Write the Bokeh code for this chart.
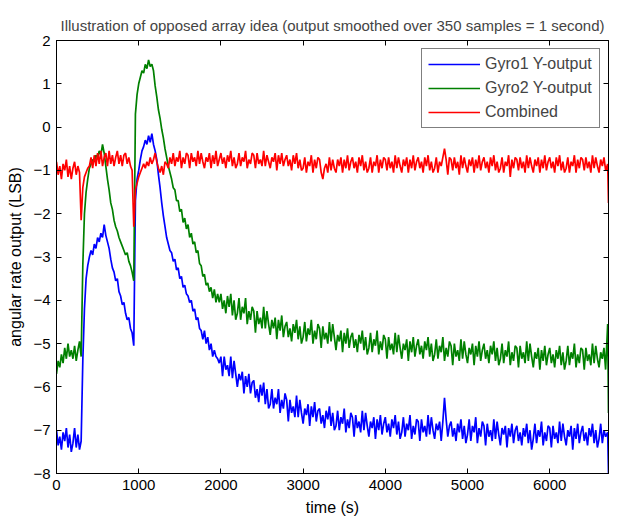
from bokeh.plotting import figure
from bokeh.models import (Range1d, FixedTicker, LinearAxis, Legend, LegendItem,
                          ColumnDataSource)
from bokeh.embed import file_html
from bokeh.resources import INLINE

# ---------------- data ----------------
time_s = list(range(0, 6700, 20)) + [6705, 6715]

gyro1 = [
    -7.00, -7.35, -7.15, -7.45, -7.05, -7.25, -6.95, -7.40, -7.10, -7.50,
    -7.30, -6.95, -7.40, -7.10, -7.45, -7.25, -5.40, -4.20, -3.50, -3.20,
    -3.00, -2.85, -2.95, -2.70, -2.80, -2.55, -2.65, -2.45, -2.55, -2.25,
    -2.50, -2.65, -2.80, -3.05, -3.25, -3.35, -3.55, -3.50, -3.80, -3.90,
    -4.10, -4.05, -4.30, -4.45, -4.40, -4.65, -4.75, -5.05, -1.70, -1.20,
    -1.00, -0.75, -0.55, -0.45, -0.30, -0.40, -0.20, -0.35, -0.15, -0.40,
    -0.55, -0.75, -1.10, -1.40, -1.75, -2.05, -2.30, -2.55, -2.70, -2.85,
    -2.90, -3.10, -3.05, -3.30, -3.25, -3.50, -3.45, -3.70, -3.65, -3.85,
    -3.90, -4.05, -4.00, -4.25, -4.20, -4.45, -4.40, -4.65, -4.70, -4.90,
    -4.70, -5.00, -4.85, -5.15, -5.00, -5.30, -5.15, -5.30, -5.35, -5.45,
    -5.30, -5.75, -5.30, -5.60, -5.50, -5.75, -5.30, -5.80, -5.40, -5.70,
    -6.00, -5.70, -5.85, -5.65, -6.15, -5.75, -6.00, -5.70, -6.15, -5.90,
    -5.85, -6.25, -6.05, -6.35, -5.95, -6.20, -5.90, -6.40, -6.05, -6.50,
    -6.40, -6.05, -6.50, -6.25, -6.40, -6.05, -6.60, -6.30, -6.50, -6.15,
    -6.30, -6.80, -6.30, -6.60, -6.45, -6.70, -6.20, -6.70, -6.30, -6.60,
    -6.85, -6.50, -6.65, -6.40, -6.90, -6.45, -6.70, -6.35, -6.80, -6.55,
    -6.50, -6.85, -6.65, -6.95, -6.55, -6.75, -6.45, -6.90, -6.60, -7.00,
    -6.90, -6.55, -7.00, -6.70, -6.85, -6.50, -7.05, -6.75, -6.95, -6.60,
    -6.70, -7.15, -6.65, -6.95, -6.80, -7.05, -6.55, -7.00, -6.60, -6.90,
    -7.15, -6.80, -6.95, -6.70, -7.20, -6.75, -7.00, -6.65, -7.10, -6.85,
    -6.70, -7.05, -6.85, -7.15, -6.75, -6.95, -6.65, -7.10, -6.80, -7.20,
    -7.05, -6.70, -7.15, -6.85, -7.00, -6.65, -7.20, -6.90, -7.10, -6.75,
    -6.80, -7.25, -6.75, -7.05, -6.90, -7.15, -6.65, -7.10, -6.70, -7.00,
    -7.20, -6.85, -7.00, -6.80, -7.25, -6.80, -6.25, -6.75, -7.15, -6.90,
    -6.80, -7.15, -6.95, -7.25, -6.85, -7.05, -6.75, -7.20, -6.90, -7.30,
    -7.10, -6.75, -7.25, -6.90, -7.05, -6.70, -7.30, -6.95, -7.15, -6.80,
    -6.90, -7.35, -6.85, -7.15, -7.00, -7.25, -6.75, -7.20, -6.80, -7.10,
    -7.35, -6.95, -7.10, -6.90, -7.40, -6.95, -7.15, -6.85, -7.30, -7.00,
    -6.90, -7.25, -7.05, -7.35, -6.95, -7.15, -6.85, -7.30, -7.00, -7.45,
    -7.20, -6.85, -7.30, -7.00, -7.15, -6.80, -7.35, -7.05, -7.25, -6.90,
    -6.95, -7.40, -6.90, -7.20, -7.05, -7.30, -6.80, -7.25, -6.85, -7.15,
    -7.35, -7.00, -7.15, -6.90, -7.45, -6.95, -7.20, -6.85, -7.30, -7.05,
    -6.90, -7.25, -7.05, -7.35, -6.95, -7.15, -6.85, -7.30, -7.00, -7.40,
    -7.20, -6.85, -7.30, -7.00, -7.15,
    -7.05, -8.00,
]

gyro2 = [
    -5.70, -5.40, -5.55, -5.25, -5.45, -5.10, -5.35, -5.00, -5.30, -5.15,
    -5.35, -5.05, -5.40, -5.15, -4.95, -5.30, -3.20, -2.00, -1.50, -1.20,
    -0.95, -0.85, -0.75, -0.80, -0.65, -0.70, -0.55, -0.65, -0.40, -0.60,
    -0.90, -1.20, -1.45, -1.75, -1.90, -2.15, -2.30, -2.40, -2.55, -2.65,
    -2.75, -2.85, -2.95, -2.90, -3.10, -3.20, -3.35, -3.55, 0.30, 0.75,
    1.00, 1.15, 1.30, 1.25, 1.45, 1.35, 1.55, 1.40, 1.45, 1.30,
    0.95, 0.70, 0.40, 0.20, -0.05, -0.25, -0.50, -0.70, -0.90, -1.05,
    -1.20, -1.40, -1.45, -1.70, -1.70, -1.95, -1.90, -2.20, -2.10, -2.35,
    -2.25, -2.55, -2.45, -2.70, -2.65, -2.90, -2.85, -3.15, -3.20, -3.45,
    -3.40, -3.65, -3.60, -3.80, -3.70, -3.95, -3.75, -4.05, -3.85, -4.05,
    -3.85, -4.20, -4.00, -4.30, -3.90, -4.15, -3.85, -4.35, -4.00, -4.45,
    -4.30, -3.95, -4.45, -4.15, -4.30, -3.95, -4.55, -4.25, -4.45, -4.15,
    -4.25, -4.75, -4.25, -4.55, -4.40, -4.65, -4.15, -4.65, -4.25, -4.55,
    -4.80, -4.45, -4.65, -4.40, -4.90, -4.45, -4.70, -4.35, -4.85, -4.60,
    -4.50, -4.85, -4.65, -4.95, -4.55, -4.75, -4.45, -4.90, -4.60, -5.00,
    -4.85, -4.50, -4.95, -4.65, -4.80, -4.45, -5.00, -4.70, -4.90, -4.55,
    -4.65, -5.10, -4.60, -4.90, -4.75, -5.00, -4.50, -4.95, -4.55, -4.85,
    -5.15, -4.80, -4.95, -4.70, -5.20, -4.75, -5.00, -4.65, -5.10, -4.85,
    -4.75, -5.10, -4.90, -5.20, -4.80, -5.00, -4.70, -5.15, -4.85, -5.25,
    -5.10, -4.75, -5.20, -4.90, -5.05, -4.70, -5.25, -4.95, -5.15, -4.80,
    -4.90, -5.35, -4.85, -5.15, -5.00, -5.25, -4.75, -5.20, -4.80, -5.10,
    -5.35, -5.00, -5.15, -4.90, -5.40, -4.95, -5.20, -4.85, -5.30, -5.05,
    -4.90, -5.25, -5.05, -5.35, -4.95, -5.15, -4.85, -5.30, -5.00, -5.40,
    -5.25, -4.90, -5.35, -5.05, -5.20, -4.85, -5.40, -5.10, -5.30, -4.95,
    -5.05, -5.50, -5.00, -5.30, -5.15, -5.40, -4.90, -5.35, -4.95, -5.25,
    -5.45, -5.10, -5.25, -5.00, -5.50, -5.05, -5.30, -4.95, -5.40, -5.15,
    -5.00, -5.35, -5.15, -5.45, -5.05, -5.25, -4.95, -5.40, -5.10, -5.50,
    -5.35, -5.00, -5.45, -5.15, -5.30, -4.95, -5.50, -5.20, -5.40, -5.05,
    -5.10, -5.55, -5.05, -5.35, -5.20, -5.45, -4.95, -5.40, -5.00, -5.30,
    -5.55, -5.20, -5.35, -5.10, -5.60, -5.15, -5.40, -5.05, -5.50, -5.25,
    -5.10, -5.45, -5.25, -5.55, -5.15, -5.35, -5.05, -5.50, -5.20, -5.60,
    -5.40, -5.05, -5.50, -5.20, -5.35, -5.00, -5.55, -5.25, -5.45, -5.10,
    -5.15, -5.60, -5.10, -5.40, -5.25, -5.50, -5.00, -5.45, -5.05, -5.35,
    -5.55, -5.20, -5.35, -5.10, -5.60,
    -4.55, -6.60,
]

combined = [
    -0.80, -1.10, -0.90, -1.20, -0.85, -1.00, -0.75, -1.15, -0.90, -1.20,
    -0.95, -0.80, -1.10, -0.90, -1.05, -2.15, -1.40, -1.15, -1.05, -0.95,
    -0.90, -0.70, -0.95, -0.65, -0.90, -0.60, -0.85, -0.55, -0.90, -0.70,
    -0.60, -0.90, -0.55, -0.85, -0.65, -0.90, -0.70, -0.55, -0.85, -0.65,
    -0.90, -0.65, -0.60, -0.85, -0.70, -0.90, -1.00, -2.30, -1.45, -1.30,
    -1.15, -1.05, -0.95, -0.85, -0.95, -0.80, -0.90, -0.70, -0.85, -0.75,
    -0.60, -0.80, -0.95, -1.05, -0.90, -1.10, -0.80, -0.85, -0.95, -0.70,
    -0.85, -0.60, -0.90, -0.70, -0.80, -0.55, -0.95, -0.70, -0.85, -0.60,
    -0.65, -0.95, -0.60, -0.80, -0.70, -0.90, -0.55, -0.85, -0.60, -0.80,
    -0.95, -0.70, -0.80, -0.60, -0.95, -0.65, -0.85, -0.55, -0.90, -0.75,
    -0.60, -0.85, -0.70, -0.95, -0.65, -0.80, -0.55, -0.90, -0.70, -0.95,
    -0.85, -0.60, -0.90, -0.70, -0.80, -0.55, -0.95, -0.75, -0.85, -0.60,
    -0.65, -0.95, -0.60, -0.85, -0.75, -0.90, -0.55, -0.90, -0.65, -0.80,
    -0.95, -0.70, -0.80, -0.60, -1.00, -0.65, -0.85, -0.60, -0.90, -0.75,
    -0.65, -0.90, -0.75, -1.00, -0.65, -0.85, -0.60, -0.95, -0.75, -1.00,
    -0.95, -0.70, -1.05, -0.80, -0.90, -0.65, -1.05, -0.75, -0.95, -0.70,
    -0.75, -1.05, -1.20, -0.95, -0.85, -1.05, -0.70, -1.00, -0.75, -0.95,
    -1.05, -0.75, -0.90, -0.70, -1.05, -0.75, -0.95, -0.65, -1.00, -0.80,
    -0.70, -0.95, -0.80, -1.05, -0.70, -0.90, -0.65, -1.00, -0.80, -1.05,
    -0.95, -0.70, -1.05, -0.80, -0.90, -0.65, -1.05, -0.75, -0.95, -0.70,
    -0.75, -1.00, -0.70, -0.95, -0.80, -1.05, -0.65, -0.95, -0.70, -0.90,
    -1.05, -0.75, -0.90, -0.70, -1.05, -0.75, -0.95, -0.65, -1.00, -0.80,
    -0.70, -0.95, -0.80, -1.05, -0.70, -0.90, -0.65, -1.00, -0.80, -1.05,
    -0.95, -0.70, -1.05, -0.80, -0.90, -0.70, -0.50, -0.75, -1.10, -0.70,
    -0.75, -1.00, -0.70, -0.95, -0.80, -1.10, -0.65, -0.95, -0.70, -0.90,
    -1.05, -0.75, -0.90, -0.70, -1.05, -0.75, -0.95, -0.65, -1.00, -0.80,
    -0.70, -0.95, -0.80, -1.05, -0.70, -0.90, -0.65, -1.00, -0.80, -1.05,
    -0.95, -0.70, -1.05, -0.80, -0.90, -0.65, -1.15, -0.75, -0.95, -0.70,
    -0.75, -1.00, -0.70, -0.95, -0.80, -1.05, -0.65, -0.95, -0.70, -0.90,
    -1.05, -0.75, -0.90, -0.70, -1.05, -0.75, -0.95, -0.65, -1.00, -0.80,
    -0.70, -0.95, -0.80, -1.05, -0.70, -0.90, -0.65, -1.00, -0.80, -1.05,
    -0.95, -0.70, -1.05, -0.80, -0.90, -0.65, -1.05, -0.75, -0.95, -0.70,
    -0.75, -1.00, -0.70, -0.95, -0.80, -1.05, -0.65, -0.95, -0.70, -0.90,
    -1.05, -0.75, -0.90, -0.70, -1.00,
    -0.85, -1.75,
]

series_names = ["Gyro1 Y-output", "Gyro2 Y-output", "Combined"]
series_colors = ["#0000FF", "#008000", "#FF0000"]

x_ticks = [0, 1000, 2000, 3000, 4000, 5000, 6000]
y_ticks = [-8, -7, -6, -5, -4, -3, -2, -1, 0, 1, 2]

title_text = "Illustration of opposed array idea (output smoothed over 350 samples = 1 second)"
x_label = "time (s)"
y_label = "angular rate output (LSB)"

# ---------------- figure ----------------
FONT = "Liberation Sans"

p = figure(frame_width=552, frame_height=433,
           x_range=Range1d(0, 6715), y_range=Range1d(-8, 2),
           output_backend="svg", toolbar_location=None,
           min_border_left=56, min_border_right=14,
           min_border_top=40, min_border_bottom=0,
           title=title_text)

p.title.text_font = FONT
p.title.text_font_size = "15px"
p.title.text_font_style = "normal"
p.title.align = "center"
p.title.standoff = 14

p.background_fill_color = "white"
p.border_fill_color = "white"
p.outline_line_color = "black"
p.outline_line_width = 1
p.xgrid.visible = False
p.ygrid.visible = False


def style_axis(ax, ticks, show_labels=True):
    ax.ticker = FixedTicker(ticks=ticks)
    ax.major_tick_in = 5
    ax.major_tick_out = 0
    ax.minor_tick_line_color = None
    ax.axis_line_color = "black"
    ax.major_tick_line_color = "black"
    if show_labels:
        ax.major_label_text_font = FONT
        ax.major_label_text_font_size = "15px"
        ax.major_label_text_color = "black"
        ax.axis_label_text_font = FONT
        ax.axis_label_text_font_size = "16px"
        ax.axis_label_text_font_style = "normal"
        ax.axis_label_text_color = "black"
    else:
        ax.major_label_text_color = None
        ax.major_label_text_font_size = "1px"
        ax.major_label_standoff = 0


style_axis(p.xaxis[0], x_ticks)
style_axis(p.yaxis[0], y_ticks)
p.xaxis[0].axis_label = x_label
p.yaxis[0].axis_label = y_label
p.xaxis[0].major_label_standoff = 6
p.xaxis[0].axis_label_standoff = 6
p.yaxis[0].major_label_standoff = 6
p.yaxis[0].axis_label_standoff = 6

top_ax = LinearAxis()
style_axis(top_ax, x_ticks, show_labels=False)
p.add_layout(top_ax, "above")
right_ax = LinearAxis()
style_axis(right_ax, y_ticks, show_labels=False)
p.add_layout(right_ax, "right")

source = ColumnDataSource(dict(t=time_s, g1=gyro1, g2=gyro2, c=combined))
renderers = []
for col, color in zip(["g1", "g2", "c"], series_colors):
    r = p.line(x="t", y=col, source=source, line_color=color, line_width=1.7)
    renderers.append(r)

legend = Legend(items=[LegendItem(label=n, renderers=[r])
                       for n, r in zip(series_names, renderers)],
                location="top_right")
legend.border_line_color = "black"
legend.border_line_width = 1
legend.background_fill_color = "white"
legend.background_fill_alpha = 1
legend.label_text_font = FONT
legend.label_text_font_size = "16px"
legend.glyph_width = 52
legend.glyph_height = 18
legend.label_height = 18
legend.label_width = 108
legend.spacing = 6
legend.padding = 6
legend.label_standoff = 5
legend.margin = 8
p.add_layout(legend)

open("out.html", "w").write(file_html(p, INLINE))
